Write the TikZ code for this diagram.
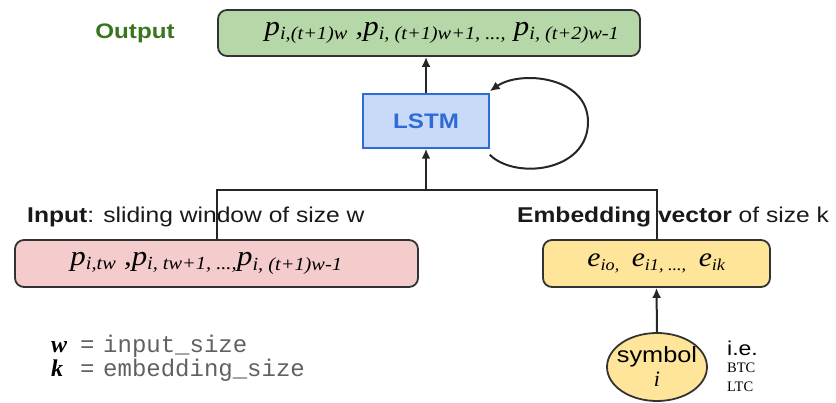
\documentclass[tikz,border=0pt]{standalone}
\usepackage{fontspec}
\setmainfont{Liberation Serif}
\setsansfont[FakeStretch=1.15]{Liberation Sans}
\setmonofont{Liberation Mono}
\newfontfamily\seqfont[FakeStretch=1.1]{Liberation Serif}
\usetikzlibrary{arrows.meta,shapes.geometric}
\definecolor{outgreen}{HTML}{B6D7A8}
\definecolor{outtext}{HTML}{38761D}
\definecolor{lstmfill}{HTML}{C9DAF8}
\definecolor{lstmblue}{HTML}{2F6BD8}
\definecolor{inpink}{HTML}{F4CCCC}
\definecolor{embyellow}{HTML}{FFE599}
\definecolor{edge}{HTML}{333333}
\tikzset{
  seqbox/.style={draw=edge, line width=1.8pt, rounded corners=9pt, inner sep=0pt,
                 font=\seqfont\itshape\fontsize{28}{30}\selectfont},
  caption/.style={font=\sffamily\fontsize{21.4}{23}\selectfont, text=black!90, inner sep=0pt},
  link/.style={draw=black!85, line width=2pt},
  arr/.style={link, -{Latex[length=10pt,width=9pt]}},
  legvar/.style={font=\bfseries\itshape\fontsize{24}{24}\selectfont, anchor=base west, inner sep=0pt},
  legtext/.style={font=\ttfamily\fontsize{24}{24}\selectfont, text=black!62, anchor=base west, inner sep=0pt},
}
\newcommand{\sbs}[1]{\textsubscript{\fontsize{18.5}{18.5}\selectfont #1}}
\newcommand{\esbs}[1]{\textsubscript{\fontsize{16.5}{16.5}\selectfont #1}}
\begin{document}
\begin{tikzpicture}[x=1pt,y=-1pt]
\useasboundingbox (0,0) rectangle (836,403);

% output sequence
\node[seqbox, fill=outgreen, minimum width=422pt, minimum height=46pt] (out) at (429,33)
  {\hspace*{26pt}p\sbs{i,(t+1)w} ,p\sbs{i, (t+1)w+1, ...,} p\sbs{i, (t+2)w-1}};
\node[font=\sffamily\bfseries\fontsize{21}{23}\selectfont, text=outtext] (outlab) at (135,33) {Output};

% recurrent cell
\node[draw=lstmblue, line width=1.5pt, fill=lstmfill, minimum width=126pt, minimum height=54pt,
      font=\sffamily\bfseries\fontsize{21}{23}\selectfont, text=lstmblue] (lstm) at (426,121) {LSTM};

% input window
\node[seqbox, fill=inpink, minimum width=403pt, minimum height=47pt] (inp) at (216.5,263.5)
  {p\sbs{i,tw} ,p\sbs{i, tw+1, ...,}p\sbs{i, (t+1)w-1}\hspace*{20pt}};
\node[caption, anchor=west] (inplab) at (27,217) {\textbf{Input}: sliding window of size w};

% embedding vector
\node[seqbox, fill=embyellow, minimum width=227pt, minimum height=47pt,
      font=\seqfont\itshape\fontsize{27}{29}\selectfont] (emb) at (656.5,263.5)
  {e\esbs{io, } e\esbs{i1, ..., } e\esbs{ik}};
\node[caption, anchor=west] (emblab) at (517,217) {\textbf{Embedding vector} of size k};

% symbol
\node[ellipse, draw=edge, line width=1.8pt, fill=embyellow, minimum width=100pt, minimum height=68pt,
      inner sep=0pt] (sym) at (657,367) {};
\node[font=\sffamily\fontsize{22}{22}\selectfont, anchor=base, inner sep=0pt] (symw) at (657,363) {symbol};
\node[font=\itshape\fontsize{22}{22}\selectfont, anchor=base, inner sep=0pt] (symi) at (657,387) {i};
\node[font=\sffamily\fontsize{20}{20}\selectfont, anchor=base west, inner sep=0pt] (ie) at (727,356) {i.e.};
\node[font=\fontsize{14.5}{14.5}\selectfont, anchor=base west, inner sep=0pt] (btc) at (727,373) {BTC};
\node[font=\fontsize{14.5}{14.5}\selectfont, anchor=base west, inner sep=0pt] (ltc) at (727,392) {LTC};

% legend
\node[legvar] (legw) at (51,353) {w};
\node[legtext] (legweq) at (80,353) {=};
\node[legtext] (legwt) at (103,353) {input\_size};
\node[legvar] (legk) at (51,377) {k};
\node[legtext] (legkeq) at (80,377) {=};
\node[legtext] (legkt) at (103,377) {embedding\_size};

% connectors
\coordinate (jl) at (inp.north |- 0,190);
\coordinate (jr) at (emb.north |- 0,190);
\coordinate (jm) at (lstm.south |- 0,190);
\draw[link] (inp.north) -- (jl) -- (jr) -- (emb.north);
\draw[arr] (jm) -- (lstm.south);
\draw[arr] (lstm.north) -- (lstm.north |- out.south);
\draw[arr] (sym.north) -- (emb.south);
\draw[arr] ([yshift=-6pt]lstm.south east) .. controls (515,180) and (588,172) .. (588,122)
  .. controls (588,76) and (520,70) .. ([yshift=2pt]lstm.north east);
\end{tikzpicture}
\end{document}
